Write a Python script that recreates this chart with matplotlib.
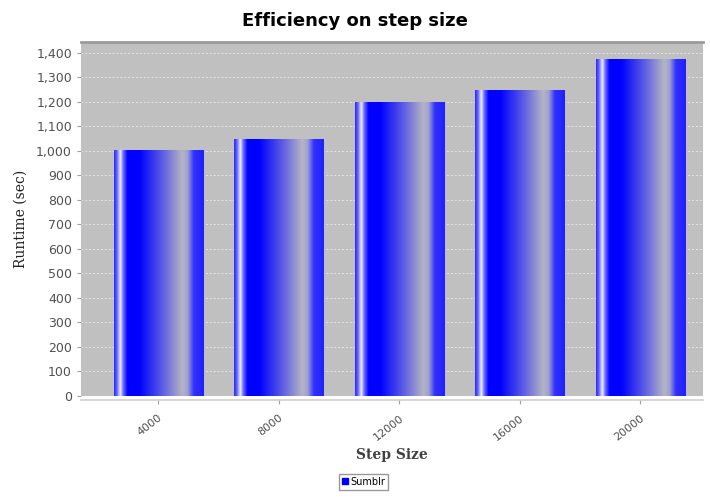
import numpy as np
import matplotlib.pyplot as plt
from matplotlib.colors import LinearSegmentedColormap
from matplotlib.patches import Patch
from matplotlib.ticker import FuncFormatter, MultipleLocator

steps = ["4000", "8000", "12000", "16000", "20000"]
runtime = [1005, 1050, 1200, 1250, 1375]
series_name = "Sumblr"

# gradient across each bar, like the JFreeChart painter
grad = LinearSegmentedColormap.from_list("bar", [
    (0.00, "#2a2aff"),
    (0.03, "#6060ff"),
    (0.07, "#f0f0ff"),
    (0.10, "#7070ff"),
    (0.15, "#0000ff"),
    (0.28, "#0000ff"),
    (0.55, "#6060e4"),
    (0.76, "#b4b4c6"),
    (0.82, "#a0a0d0"),
    (0.89, "#3030ff"),
    (1.00, "#2020ff"),
])

fig = plt.figure(figsize=(7.1, 4.97), dpi=100)
ax = fig.add_axes([81 / 710, 1 - 396 / 497, 622 / 710, 354 / 497])
ax.set_facecolor("#c0c0c0")

# spines first: set_position resets the tick objects
for s in ["left", "right"]:
    ax.spines[s].set_visible(False)
ax.spines["bottom"].set_position(("outward", 3))
ax.spines["bottom"].set_color("#d0d0d0")
ax.spines["bottom"].set_linewidth(1.2)
ax.spines["top"].set_color("#9a9a9a")
ax.spines["top"].set_linewidth(2)

x = np.arange(len(steps))
bars = ax.bar(x, runtime, width=0.74, color="none", zorder=3)
g = np.linspace(0, 1, 256).reshape(1, -1)
for b in bars:
    x0, y0 = b.get_x(), b.get_y()
    im = ax.imshow(g, cmap=grad, aspect="auto", zorder=3,
                   extent=(x0, x0 + b.get_width(), y0, y0 + b.get_height()))
    im.set_clip_path(b)

ax.set_xlim(-0.64, 4.52)
ax.set_ylim(0, 1444)
ax.yaxis.set_major_locator(MultipleLocator(100))
ax.yaxis.set_major_formatter(FuncFormatter(lambda v, p: f"{int(v):,}"))
ax.grid(axis="y", color="#e4e4e4", linestyle=(0, (2, 2)), linewidth=0.7, zorder=1)
ax.set_axisbelow(True)

ax.set_xticks(x)
ax.set_xticklabels(steps, rotation=38, ha="right", rotation_mode="anchor",
                   fontsize=8, color="#505050")
ax.tick_params(axis="y", labelsize=9, labelcolor="#505050", color="#a0a0a0", length=3)
ax.tick_params(axis="x", color="#a0a0a0", length=3, pad=6)

ax.set_xlabel("Step Size", fontsize=10, family="DejaVu Serif", fontweight="bold",
              color="#404040", labelpad=4)
ax.set_ylabel("Runtime (sec)", fontsize=10, family="DejaVu Serif", color="#202020",
              labelpad=6)
fig.suptitle("Efficiency on step size", fontsize=13, fontweight="bold", y=0.975)

handle = Patch(facecolor="#0000ff", edgecolor="#0000ff")
leg = fig.legend([handle], [series_name], loc="lower center", bbox_to_anchor=(0.512, 0.005),
                 fontsize=7, frameon=True, fancybox=False, handlelength=0.6,
                 handleheight=0.6, handletextpad=0.2, borderpad=0.3)
leg.get_frame().set_edgecolor("#808080")
leg.get_frame().set_linewidth(1.0)

fig.savefig("out.png", dpi=100)
